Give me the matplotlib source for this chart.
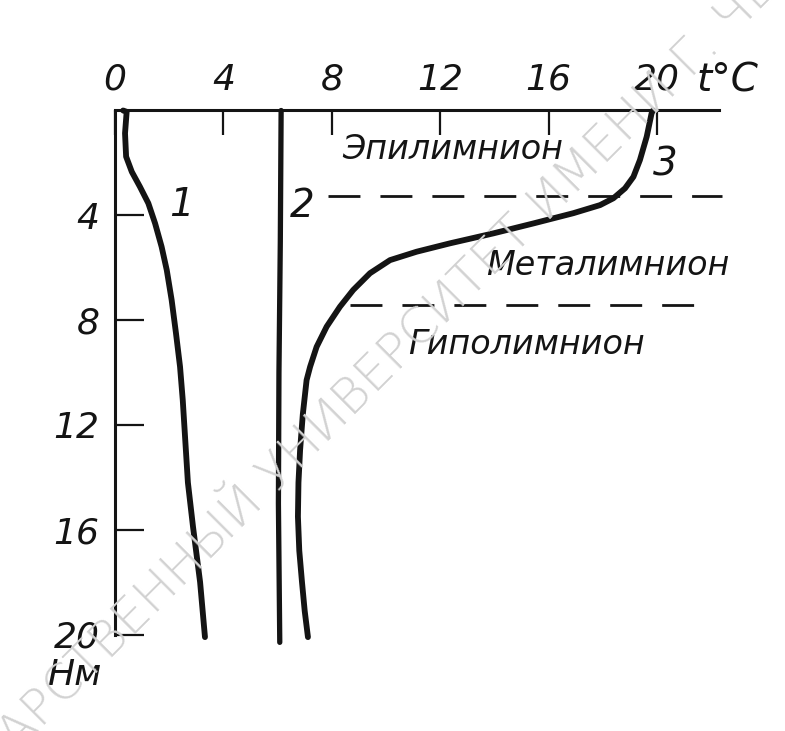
import matplotlib
matplotlib.use('Agg')
import matplotlib.pyplot as plt

plt.rcParams['font.family'] = ['DejaVu Sans']

# curve 1 (winter), curve 2 (homothermy), curve 3 (summer); depth in m, t in °C
depth1 = [0, 0.05, 0.87, 1.76, 2.34, 2.91, 3.54, 4.31, 5.2, 6.09, 7.23, 8.5, 9.78, 11.05,
          14.2, 15.9, 18.0, 20.1]
temp1 = [0.3, 0.43, 0.37, 0.41, 0.62, 0.92, 1.23, 1.48, 1.72, 1.91, 2.09, 2.25, 2.4, 2.5,
         2.69, 2.88, 3.14, 3.32]

depth2 = [0, 5, 10, 15, 20.3]
temp2 = [6.13, 6.1, 6.05, 6.03, 6.08]

depth3 = [0, 0.11, 1.0, 1.89, 2.53, 2.97, 3.35, 3.61, 3.92, 4.31, 4.69, 5.07, 5.39, 5.71,
          6.21, 6.85, 7.49, 8.25, 9.02, 9.78, 10.29, 11.6, 12.96, 14.2, 15.5, 16.8, 18.0, 19.1, 20.1]
temp3 = [19.85, 19.8, 19.62, 19.37, 19.13, 18.82, 18.39, 17.9, 16.91, 15.44, 13.96, 12.36, 11.13,
         10.15, 9.41, 8.79, 8.3, 7.81, 7.44, 7.2, 7.07, 6.93, 6.83, 6.77, 6.75, 6.8, 6.9, 7.0, 7.12]

# layer boundaries: depth, from t, to t
bound_depth = [3.26, 7.42]
bound_start = [7.86, 8.67]
bound_end = [22.4, 21.9]

x_ticks = [0, 4, 8, 12, 16, 20]
y_ticks = [4, 8, 12, 16, 20]

layers = ['Эпилимнион', 'Металимнион', 'Гиполимнион']

ink = '#141414'

fig = plt.figure(figsize=(7.85, 7.31), dpi=100)
ax = fig.add_axes([0, 0, 1, 1])
ax.set_xlim(-115 / 27.1, (785 - 115) / 27.1)
ax.set_ylim((731 - 110.5) / 26.2, -110.5 / 26.2)

for sp in ['right', 'bottom']:
    ax.spines[sp].set_visible(False)
ax.spines['top'].set_position(('data', 0))
ax.spines['top'].set_bounds(0, 22.3)
ax.spines['left'].set_position(('data', 0))
ax.spines['left'].set_bounds(0, 20)
for sp in ['top', 'left']:
    ax.spines[sp].set_linewidth(2.2)
    ax.spines[sp].set_color(ink)

ax.xaxis.set_ticks_position('top')
ax.set_xticks(x_ticks)
ax.set_xticklabels([str(v) for v in x_ticks], fontsize=26, style='italic', color=ink)
ax.tick_params(axis='x', direction='in', length=18, width=1.6, pad=10, color=ink)

ax.set_yticks(y_ticks)
ax.set_yticklabels([str(v) for v in y_ticks], fontsize=26, style='italic', color=ink)
ax.tick_params(axis='y', direction='in', length=21, width=1.6, pad=11, color=ink)

ax.plot(temp1, depth1, color=ink, lw=4.2, solid_capstyle='round', solid_joinstyle='round')
ax.plot(temp2, depth2, color=ink, lw=3.8, solid_capstyle='round', solid_joinstyle='round')
ax.plot(temp3, depth3, color=ink, lw=4.2, solid_capstyle='round', solid_joinstyle='round')

for d, a, b in zip(bound_depth, bound_start, bound_end):
    ax.plot([a, b], [d, d], color=ink, lw=2.0, dashes=(11.5, 7.2))

# curve numbers
ax.text(2.45, 3.6, '1', fontsize=28, style='italic', color=ink, ha='center', va='center')
ax.text(6.9, 3.65, '2', fontsize=28, style='italic', color=ink, ha='center', va='center')
ax.text(20.3, 2.05, '3', fontsize=28, style='italic', color=ink, ha='center', va='center')

# layer names
ax.text(12.45, 1.5, layers[0], fontsize=24, style='italic', color=ink, ha='center', va='center')
ax.text(18.2, 5.93, layers[1], fontsize=24, style='italic', color=ink, ha='center', va='center')
ax.text(15.2, 8.95, layers[2], fontsize=24, style='italic', color=ink, ha='center', va='center')

# axis names
ax.text(21.45, -1.15, 't°C', fontsize=28, style='italic', color=ink, ha='left', va='center')
ax.text(-1.5, 21.55, 'Нм', fontsize=26, style='italic', color=ink, ha='center', va='center')

# watermark of the scanned source
fig.text(-117 / 785, 1 - 862 / 731, 'ГОСУДАРСТВЕННЫЙ УНИВЕРСИТЕТ ИМЕНИ Г. ЧЕРНЫШЕВСКОГО',
         fontsize=36, fontweight='light', color='#d2d2d2', rotation=45,
         rotation_mode='anchor', ha='left', va='center', zorder=0)

fig.savefig('out.png', dpi=100, facecolor='white')
